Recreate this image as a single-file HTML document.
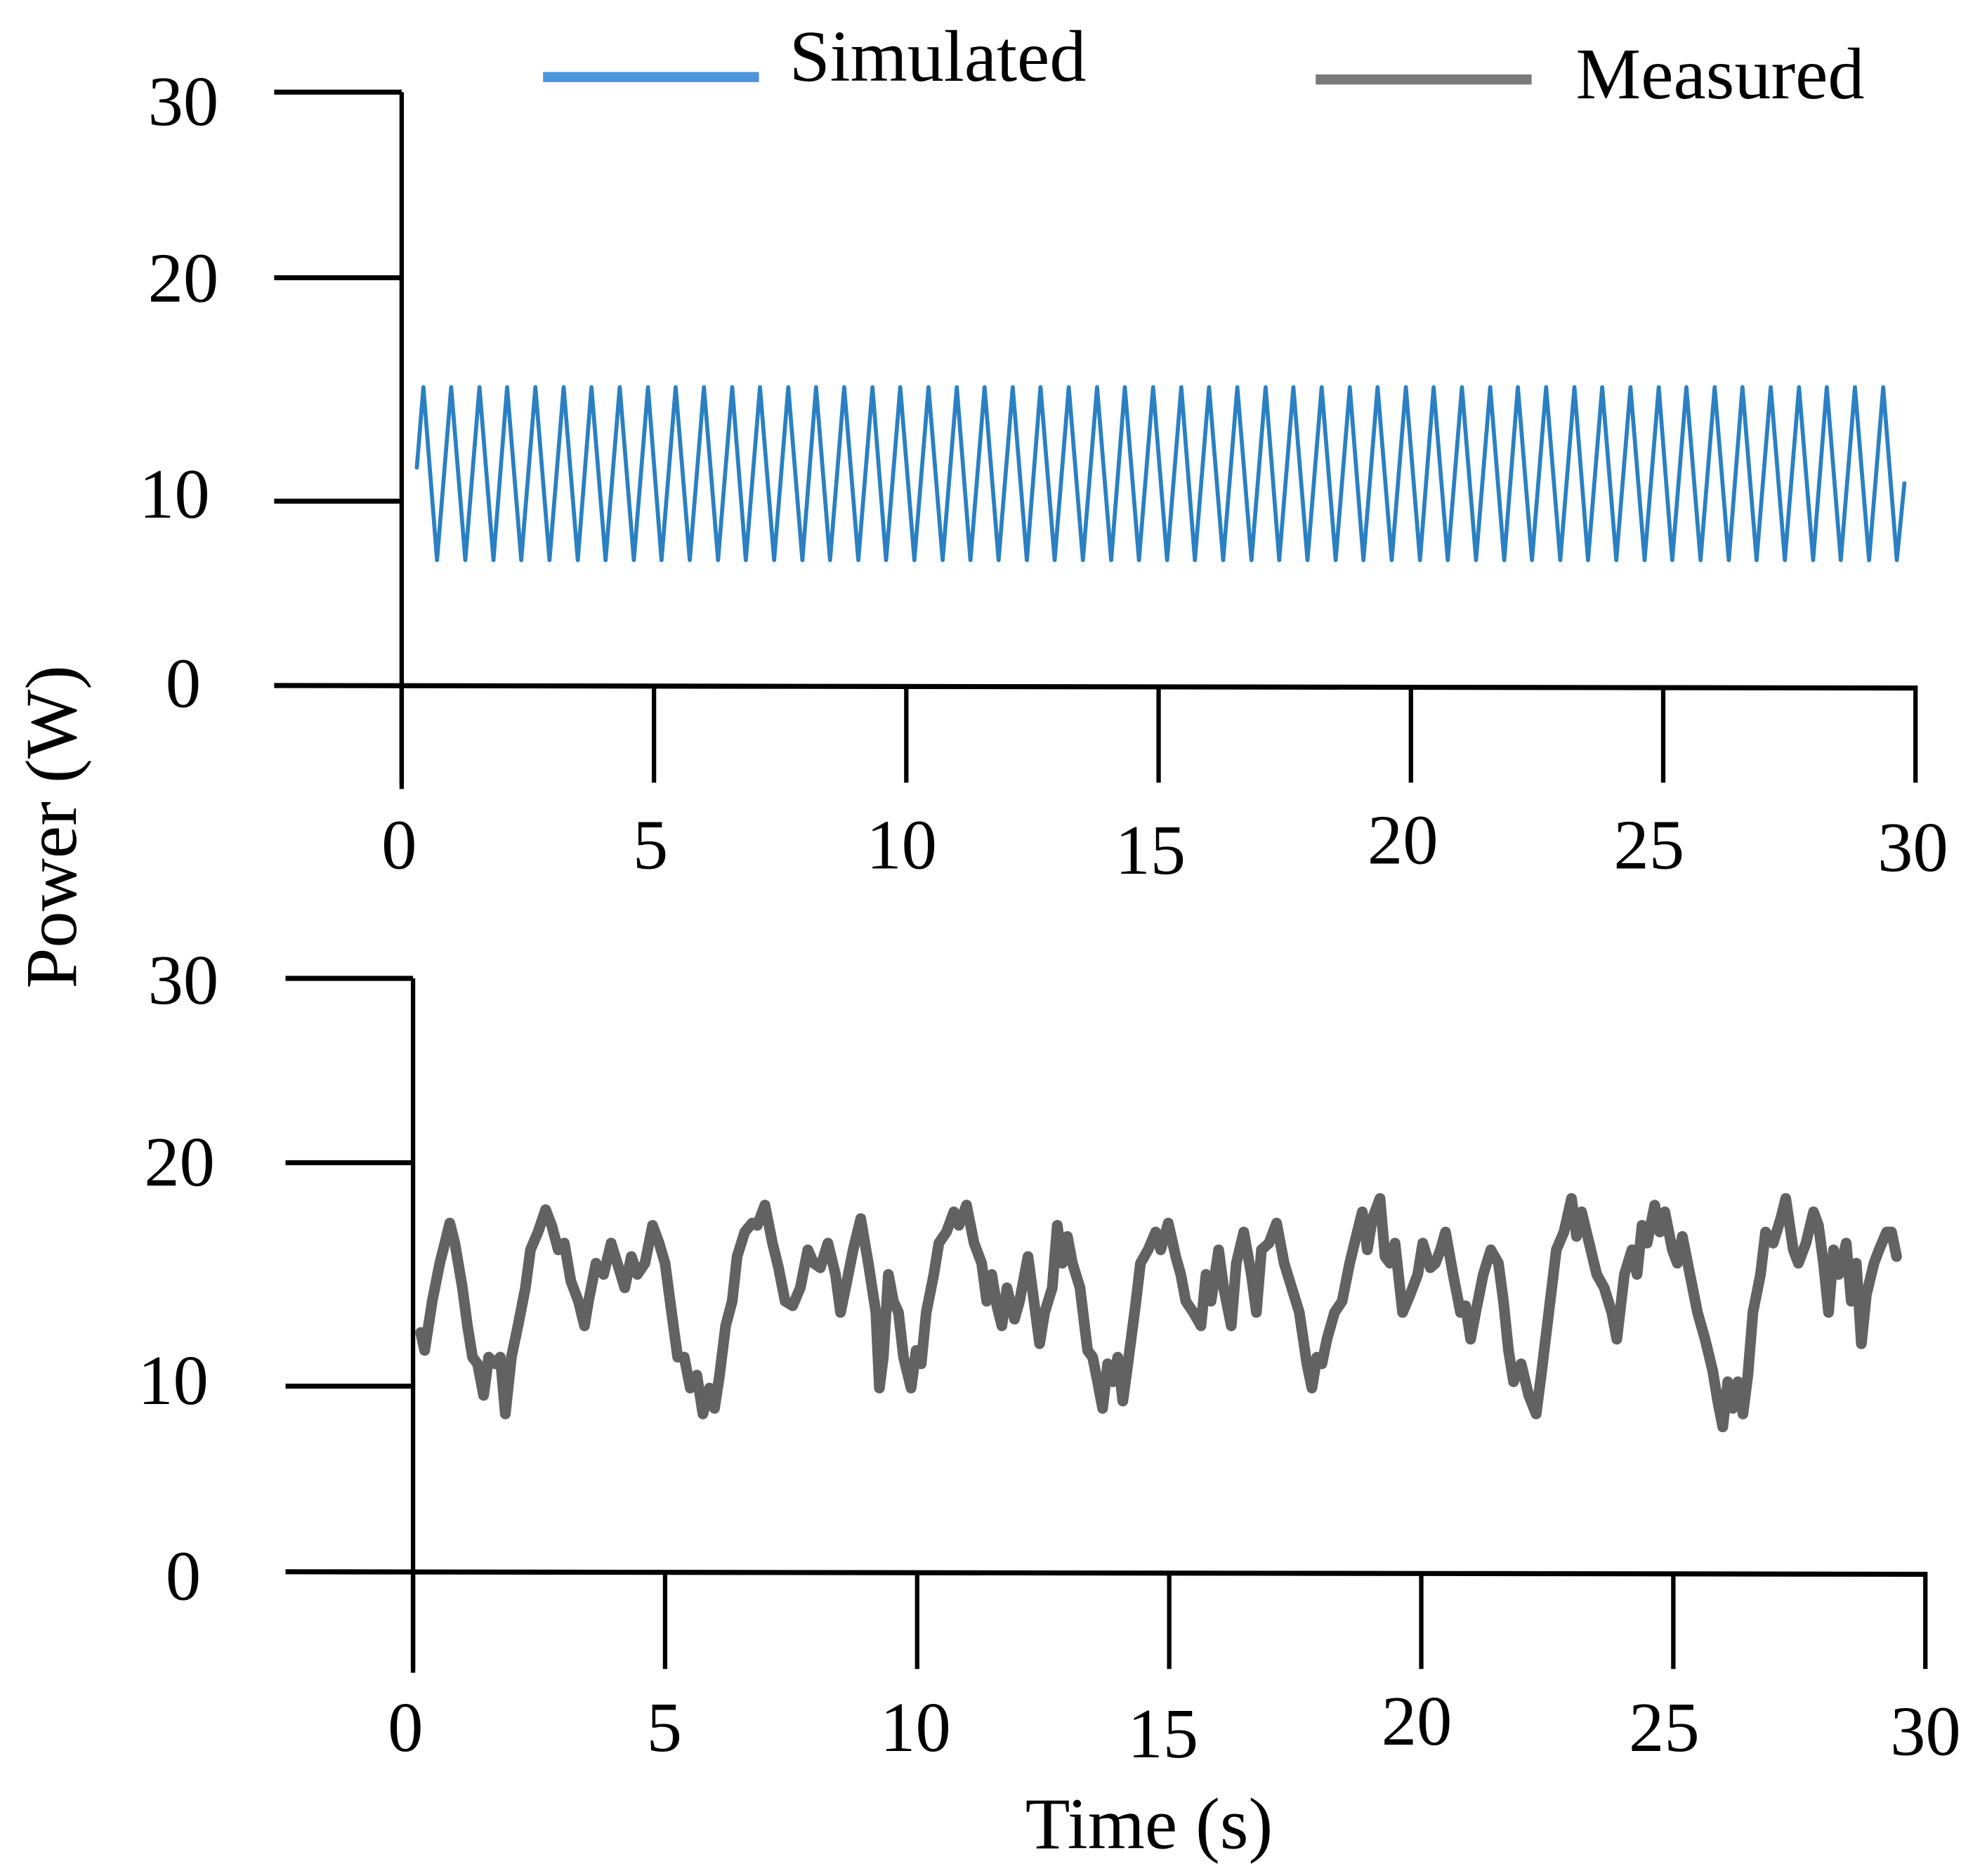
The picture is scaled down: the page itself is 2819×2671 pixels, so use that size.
<!DOCTYPE html>
<html><head><meta charset="utf-8"><style>
html,body{margin:0;padding:0;background:#fff}
svg{display:block}
text{font-family:"Liberation Serif",serif;fill:#000}
</style></head><body>
<svg id="chart" width="2819" height="2671" viewBox="0 0 1568 1486" xmlns="http://www.w3.org/2000/svg">
<g id="static"></g>
<g id="marks"></g>
</svg>
<script>
const yTickValues = [0, 10, 20, 30];
const yTickLabels = ["0", "10", "20", "30"];
const xTickValues = [0, 5, 10, 15, 20, 25, 30];
const xTickLabels = ["0", "5", "10", "15", "20", "25", "30"];
const legendLabels = ["Simulated", "Measured"];

const simTimes = [0.30,0.43,0.70,0.98,1.26,1.54,1.82,2.09,2.37,2.65,2.93,3.21,3.49,3.76,4.04,4.32,4.60,4.88,5.15,5.43,5.71,5.99,6.27,6.55,6.82,7.10,7.38,7.66,7.94,8.21,8.49,8.77,9.05,9.33,9.60,9.88,10.16,10.44,10.72,11.00,11.27,11.55,11.83,12.11,12.39,12.66,12.94,13.22,13.50,13.78,14.06,14.33,14.61,14.89,15.17,15.45,15.72,16.00,16.28,16.56,16.84,17.12,17.39,17.67,17.95,18.23,18.51,18.79,19.06,19.34,19.62,19.90,20.18,20.45,20.73,21.01,21.29,21.57,21.85,22.12,22.40,22.68,22.96,23.24,23.51,23.79,24.07,24.35,24.63,24.91,25.18,25.46,25.74,26.02,26.30,26.57,26.85,27.13,27.41,27.69,27.97,28.24,28.52,28.80,29.08,29.36,29.63,29.78];
const simValues = [11.5,15.1,6.8,15.1,6.8,15.1,6.8,15.1,6.8,15.1,6.8,15.1,6.8,15.1,6.8,15.1,6.8,15.1,6.8,15.1,6.8,15.1,6.8,15.1,6.8,15.1,6.8,15.1,6.8,15.1,6.8,15.1,6.8,15.1,6.8,15.1,6.8,15.1,6.8,15.1,6.8,15.1,6.8,15.1,6.8,15.1,6.8,15.1,6.8,15.1,6.8,15.1,6.8,15.1,6.8,15.1,6.8,15.1,6.8,15.1,6.8,15.1,6.8,15.1,6.8,15.1,6.8,15.1,6.8,15.1,6.8,15.1,6.8,15.1,6.8,15.1,6.8,15.1,6.8,15.1,6.8,15.1,6.8,15.1,6.8,15.1,6.8,15.1,6.8,15.1,6.8,15.1,6.8,15.1,6.8,15.1,6.8,15.1,6.8,15.1,6.8,15.1,6.8,15.1,6.8,15.1,6.8,10.8];

const measTimes = [0.15,0.23,0.38,0.53,0.63,0.73,0.83,0.98,1.08,1.18,1.28,1.40,1.50,1.63,1.73,1.83,1.95,2.08,2.23,2.33,2.48,2.63,2.75,2.88,3.00,3.13,3.28,3.40,3.48,3.63,3.78,3.93,4.08,4.20,4.33,4.45,4.60,4.75,4.88,5.00,5.13,5.25,5.38,5.50,5.63,5.75,5.88,5.98,6.08,6.20,6.33,6.43,6.58,6.73,6.83,6.98,7.13,7.25,7.38,7.53,7.68,7.83,7.95,8.08,8.23,8.38,8.48,8.58,8.73,8.88,9.03,9.18,9.25,9.33,9.43,9.53,9.63,9.73,9.88,9.98,10.08,10.18,10.33,10.43,10.58,10.73,10.83,10.98,11.13,11.28,11.38,11.48,11.58,11.68,11.78,11.93,12.03,12.20,12.33,12.43,12.53,12.68,12.78,12.88,12.98,13.08,13.23,13.38,13.48,13.58,13.68,13.78,13.88,13.98,14.08,14.18,14.33,14.43,14.58,14.73,14.83,14.98,15.13,15.23,15.33,15.48,15.63,15.73,15.83,15.98,16.08,16.23,16.33,16.48,16.63,16.73,16.83,16.98,17.13,17.28,17.43,17.58,17.73,17.83,17.93,18.03,18.13,18.28,18.43,18.58,18.73,18.83,18.93,19.03,19.18,19.28,19.38,19.48,19.63,19.78,19.93,20.03,20.18,20.28,20.38,20.48,20.63,20.78,20.88,20.98,21.08,21.23,21.38,21.53,21.63,21.73,21.83,21.98,22.13,22.28,22.38,22.53,22.68,22.83,22.98,23.08,23.18,23.33,23.48,23.63,23.78,23.88,24.03,24.18,24.28,24.38,24.48,24.63,24.73,24.83,24.98,25.08,25.18,25.33,25.48,25.63,25.78,25.88,25.98,26.08,26.18,26.28,26.38,26.48,26.58,26.73,26.83,26.98,27.13,27.23,27.38,27.48,27.63,27.78,27.88,27.98,28.08,28.18,28.28,28.43,28.53,28.63,28.73,28.83,28.98,29.08,29.23,29.33,29.43];
const measValues = [12.4,11.6,13.8,15.5,16.4,17.3,16.4,14.4,12.7,11.3,11.0,9.5,11.3,11.0,11.3,8.5,11.3,12.7,14.4,16.1,16.9,17.9,17.2,16.1,16.4,14.7,13.8,12.7,13.8,15.5,15.0,16.4,15.3,14.4,15.8,15.0,15.5,17.2,16.4,15.5,13.3,11.3,11.3,9.9,10.5,8.5,9.9,8.8,10.5,12.7,13.8,15.8,16.9,17.3,17.2,18.1,16.4,15.3,13.8,13.6,14.4,16.1,15.5,15.3,16.4,15.0,13.3,14.4,16.1,17.5,15.5,13.3,9.9,11.3,15.0,13.8,13.3,11.3,9.9,11.6,11.0,13.3,15.0,16.4,16.9,17.8,17.2,18.1,16.4,15.5,13.8,15.0,13.6,12.7,14.4,13.0,13.8,15.8,13.6,11.9,13.3,14.4,17.2,15.5,16.7,15.5,14.4,11.6,11.3,10.2,8.8,11.0,10.2,11.3,9.2,11.0,13.6,15.5,16.1,16.9,16.1,17.3,15.8,15.0,13.8,13.3,12.7,15.0,13.8,16.1,14.4,12.7,15.5,16.9,15.0,13.3,16.1,16.4,17.3,15.5,14.4,13.3,11.0,9.9,11.3,11.0,12.1,13.3,13.8,15.5,16.9,17.8,16.1,17.5,18.4,15.8,15.5,16.4,13.3,14.1,15.0,16.4,15.3,15.5,16.1,16.9,15.0,13.3,13.6,12.1,13.3,15.0,16.1,15.5,13.8,11.6,10.2,11.0,9.5,8.5,10.5,13.3,16.1,16.9,18.4,16.7,17.8,16.4,15.0,14.4,13.3,12.1,15.0,16.1,15.0,17.2,16.4,18.1,16.9,17.8,16.1,15.5,16.7,15.0,13.3,12.1,10.7,9.2,7.8,10.2,8.8,10.2,8.5,10.5,13.3,15.0,16.9,16.4,17.5,18.4,16.1,15.5,16.4,17.8,17.2,15.5,13.3,16.1,15.0,16.4,13.8,15.5,11.9,14.1,15.5,16.1,16.9,16.9,15.8];

const NS = "http://www.w3.org/2000/svg";
const stat = document.getElementById('static');
const marks = document.getElementById('marks');

function mk(parent, tag, attrs, txt) {
  const e = document.createElementNS(NS, tag);
  for (const k in attrs) e.setAttribute(k, attrs[k]);
  if (txt !== undefined) e.textContent = txt;
  parent.appendChild(e);
  return e;
}

const panels = [
  {name:'top', x0:318, pxPerS:39.97, yPix:[543,397,220,73], axisBottom:625, xTickEnd:620, yTickStart:217, xAxisEnd:1517,
   yLab:[[145,560],[138,410],[145,239],[145,99]],
   xLab:[[316,688],[515,688],[714,688],[911,692],[1111,684],[1306,688],[1515,690]]},
  {name:'bottom', x0:327, pxPerS:39.93, yPix:[1245,1098,921,775], axisBottom:1325, xTickEnd:1322, yTickStart:226, xAxisEnd:1525,
   yLab:[[145,1267],[137,1112],[142,939],[145,795]],
   xLab:[[321,1387],[526,1387],[725,1387],[921,1392],[1122,1382],[1318,1387],[1525,1390]]}
];

function xScale(p, t) { return p.x0 + t * p.pxPerS; }
function yScale(p, v) {
  const tv = yTickValues, py = p.yPix;
  let i = 0;
  if (v <= tv[0]) i = 0; else if (v >= tv[tv.length-1]) i = tv.length-2;
  else { while (i < tv.length-2 && v > tv[i+1]) i++; }
  const f = (v - tv[i]) / (tv[i+1] - tv[i]);
  return py[i] + f * (py[i+1] - py[i]);
}

panels.forEach(p => {
  const g = mk(stat, 'g', {});
  
  
  const ya = mk(g, 'line', {x1:p.x0, y1:yScale(p,30), x2:p.x0, y2:p.axisBottom, stroke:'#000', 'stroke-width':3.5});
  
  
  const xa = mk(g, 'line', {x1:p.yTickStart, y1:yScale(p,0), x2:p.xAxisEnd, y2:yScale(p,0)+2, stroke:'#000', 'stroke-width':4});
  
  
  yTickValues.forEach((v, i) => {
    const y = yScale(p, v);
    if (v > 0) {
      const t = mk(g, 'line', {x1:p.yTickStart, y1:y, x2:p.x0, y2:y, stroke:'#000', 'stroke-width':4});
      
      
    }
    const lb = mk(g, 'text', {x:p.yLab[i][0], y:p.yLab[i][1], 'font-size':56, 'text-anchor':'middle'}, yTickLabels[i]);
    
    
  });
  xTickValues.forEach((v, i) => {
    const x = xScale(p, v);
    const t = mk(g, 'line', {x1:x, y1:yScale(p,0), x2:x, y2:p.xTickEnd, stroke:'#000', 'stroke-width':3.5});
    
    
    const lb = mk(g, 'text', {x:p.xLab[i][0], y:p.xLab[i][1], 'font-size':56, 'text-anchor':'middle'}, xTickLabels[i]);
    
    
  });
});

function drawSeries(p, times, vals, color, width, name) {
  const pts = times.map((t, i) => xScale(p, t).toFixed(1) + ',' + yScale(p, vals[i]).toFixed(1)).join(' ');
  const pl = mk(marks, 'polyline', {points:pts, fill:'none', stroke:color, 'stroke-width':width, 'stroke-linejoin':'round', 'stroke-linecap':'round'});
  
  
}
drawSeries(panels[0], simTimes, simValues, '#2a80c2', 3.2, 'simulated-line');
drawSeries(panels[1], measTimes, measValues, '#626262', 8.5, 'measured-line');

const lg = mk(stat, 'g', {});


const l1 = mk(lg, 'line', {x1:430, y1:61, x2:601, y2:61, stroke:'#4a95dc', 'stroke-width':8});


const t1 = mk(lg, 'text', {x:625, y:64, 'font-size':58}, legendLabels[0]);


const l2 = mk(lg, 'line', {x1:1042, y1:63, x2:1213, y2:63, stroke:'#7a7a7a', 'stroke-width':8});


const t2 = mk(lg, 'text', {x:1248, y:78, 'font-size':58}, legendLabels[1]);



const yt = mk(stat, 'text', {x:0, y:0, 'font-size':58, 'text-anchor':'middle', transform:'translate(60,655) rotate(-90)'}, 'Power (W)');


const xt = mk(stat, 'text', {x:910, y:1464, 'font-size':58, 'text-anchor':'middle'}, 'Time (s)');


</script>
</body></html>
